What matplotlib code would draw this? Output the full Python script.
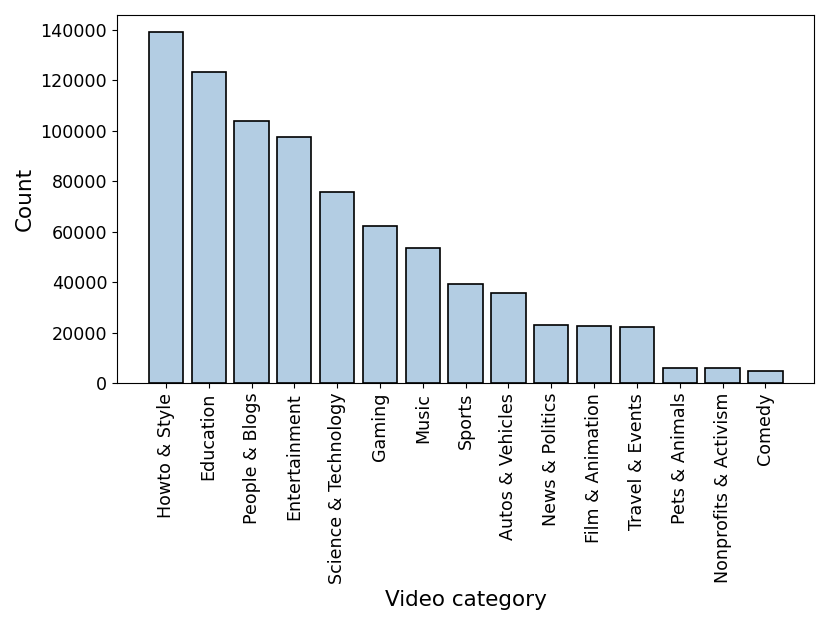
import matplotlib
matplotlib.use("Agg")
import matplotlib.pyplot as plt

categories = ["Howto & Style", "Education", "People & Blogs", "Entertainment",
              "Science & Technology", "Gaming", "Music", "Sports", "Autos & Vehicles",
              "News & Politics", "Film & Animation", "Travel & Events", "Pets & Animals",
              "Nonprofits & Activism", "Comedy"]
counts = [139000, 123500, 104000, 97700, 75800, 62300, 53600, 39300, 35600,
          23000, 22600, 22200, 6200, 6100, 5000]
yticks = [0, 20000, 40000, 60000, 80000, 100000, 120000, 140000]

fig = plt.figure(figsize=(8.3, 6.23), dpi=100)
ax = fig.add_axes([0.141, 0.385, 0.840, 0.591])
x = range(len(categories))
ax.bar(x, counts, width=0.8, color="#b3cde3", edgecolor="black", linewidth=1.2)
ax.set_xticks(list(x))
ax.set_xticklabels(categories, rotation=90, fontsize=12.6)
ax.set_yticks(yticks)
ax.set_yticklabels([str(v) for v in yticks], fontsize=12.6)
ax.set_ylabel("Count", fontsize=15.5)
ax.set_xlabel("Video category", fontsize=15.5)
fig.savefig("out.png", dpi=100)
